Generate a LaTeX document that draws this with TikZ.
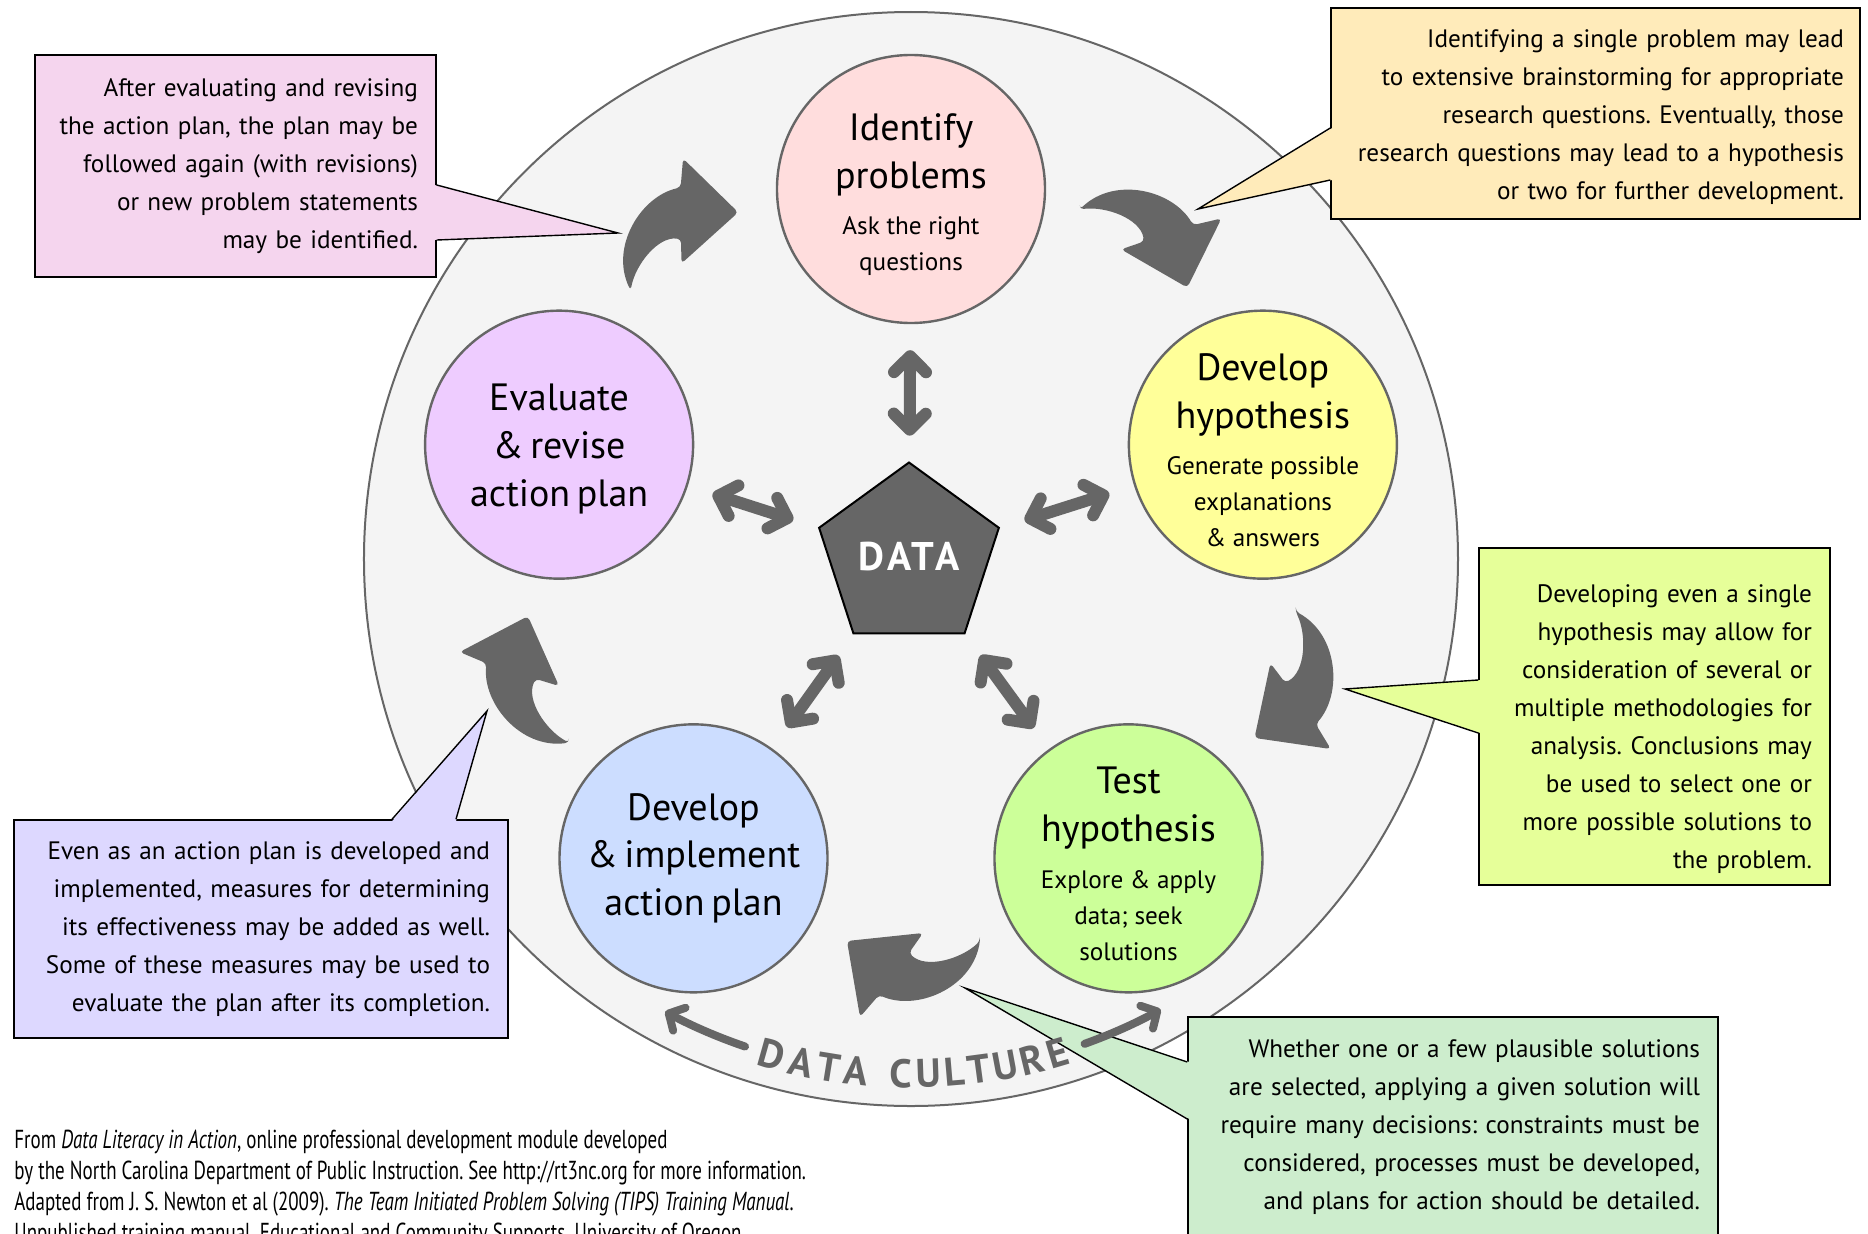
\documentclass[tikz,border=0pt]{standalone}
\usepackage{fontspec}
\setmainfont{PT Sans}
\newfontfamily\footfont[FakeStretch=0.73]{PT Sans}
\newfontfamily\datafont[LetterSpace=9]{PT Sans}
\usetikzlibrary{arrows.meta, shapes.geometric}
\frenchspacing
\hyphenpenalty=10000
\exhyphenpenalty=10000

\definecolor{ringfill}{HTML}{F4F4F4}
\definecolor{ringline}{HTML}{666666}
\definecolor{arrowgray}{HTML}{666666}
\definecolor{pinkstage}{HTML}{FFDDDD}
\definecolor{yellowstage}{HTML}{FFFF99}
\definecolor{greenstage}{HTML}{CCFF99}
\definecolor{bluestage}{HTML}{CCDDFF}
\definecolor{purplestage}{HTML}{EECCFF}
\definecolor{evalfill}{HTML}{F5D5EE}
\definecolor{identfill}{HTML}{FFEBBA}
\definecolor{hypfill}{HTML}{E6FF99}
\definecolor{implfill}{HTML}{DDD8FF}
\definecolor{testfill}{HTML}{CDEDCD}

\newcommand{\notefont}{\fontsize{12.6}{19}\selectfont}
\newcommand{\culturefont}{\bfseries\fontsize{20}{22}\selectfont}
\newcommand{\stagetitle}[2][0pt]{{\fontsize{19}{24}\selectfont\rule{0pt}{#1}#2\par}}
\newcommand{\stagenote}[1]{{\fontsize{12.6}{18}\selectfont\vspace{5.2pt}#1\par}}

\begin{document}
\begin{tikzpicture}[x=0.5pt, y=0.5pt,
		stage/.style={circle, draw=ringline, line width=1.2pt, minimum size=134pt, inner sep=-15pt, text width=120pt, align=center},
		note/.style={rectangle, draw=black, line width=0.7pt, inner sep=0pt, align=right, font=\notefont},
		tipline/.style={draw=black, line width=0.7pt},
		linkarrow/.style={draw=arrowgray, line width=6pt, {Straight Barb[length=8pt,width=16pt,round]}-{Straight Barb[length=8pt,width=16pt,round]}, shorten <=13pt, shorten >=13pt},
		culturearrow/.style={draw=arrowgray, line width=4pt, line cap=round, -{Straight Barb[length=6pt,width=13pt,round]}},
		culture/.style={text=arrowgray, font=\culturefont, inner sep=0pt}]
		\useasboundingbox (-911,-674) rectangle (957,559);
		\fill[white] (-911,-674) rectangle (957,559);
		
		% Data culture ring
		\draw[fill=ringfill, draw=ringline, line width=1pt] (0,0) circle[radius=547];
		
		% Cycle arrows
		\foreach \ang in {0,72,144,216,288} {
			\fill[arrowgray, rounded corners=2pt, rotate=\ang] (69,-382) .. controls (50,-400) and (15,-410) .. (-2,-394) -- (12,-374) -- (-64,-382) -- (-51,-458) -- (-32,-436) .. controls (5,-452) and (60,-430) .. (69,-382) -- cycle;
		}
		
		% Stages
		\node[stage, fill=pinkstage] (identify) at (90:370) {\stagetitle[19pt]{Identify\\problems}\stagenote{Ask the right\\questions}};
		\node[stage, fill=yellowstage] (hypothesis) at (18:370) {\stagetitle[19pt]{Develop\\hypothesis}\stagenote{Generate possible\\explanations\\\& answers}};
		\node[stage, fill=greenstage] (testing) at (-54:370) {\stagetitle[19pt]{Test\\hypothesis}\stagenote{Explore \& apply\\data; seek\\solutions}};
		\node[stage, fill=bluestage] (implement) at (-126:370) {\stagetitle{Develop\\\& implement\\action plan}};
		\node[stage, fill=purplestage] (evaluate) at (162:370) {\stagetitle[17.9pt]{Evaluate\\\& revise\\action plan}};
		
		% Data
		\node[regular polygon, regular polygon sides=5, minimum size=94.5pt, inner sep=0pt, fill=arrowgray, draw=black, line width=1pt, text=white, font=\datafont\bfseries\fontsize{20}{24}\selectfont] (data) at (-2,2) {DATA};
		\foreach \s in {identify, hypothesis, testing, implement, evaluate}
			\draw[linkarrow] (data) -- (\s);
		
		% Notes
		\node[note, fill=evalfill, minimum width=200.5pt, minimum height=111pt, text width=182.5pt] (evalnote) at (-675.5,393) {After evaluating and revising\\the action plan, the plan may be\\followed again (with revisions)\\or new problem statements\\may be identified.};
		\coordinate (evalA) at (evalnote.east |- 0,374);
		\coordinate (evalB) at (evalnote.east |- 0,319);
		\coordinate (evaltip) at (-293,326);
		\fill[evalfill] ([xshift=-1pt]evalA) -- (evaltip) -- ([xshift=-1pt]evalB) -- cycle;
		\draw[tipline] (evalA) -- (evaltip) -- (evalB);
		
		\node[note, fill=identfill, minimum width=264.5pt, minimum height=105.5pt, text width=248.5pt] (identnote) at (684.5,445.5) {\rule{0pt}{12.5pt}Identifying a single problem may lead\\to extensive brainstorming for appropriate\\research questions. Eventually, those\\research questions may lead to a hypothesis\\or two for further development.};
		\coordinate (identA) at (identnote.west |- 0,431);
		\coordinate (identB) at (identnote.west |- 0,379);
		\coordinate (identtip) at (287,350);
		\fill[identfill] ([xshift=1pt]identA) -- (identtip) -- ([xshift=1pt]identB) -- cycle;
		\draw[tipline] (identA) -- (identtip) -- (identB);
		
		\node[note, fill=hypfill, minimum width=175.5pt, minimum height=168.5pt, text width=157.5pt] (hypnote) at (743.5,-157.5) {\rule{0pt}{22pt}Developing even a single\\hypothesis may allow for\\consideration of several or\\multiple methodologies for\\analysis. Conclusions may\\be used to select one or\\more possible solutions to\\the problem.};
		\coordinate (hypA) at (hypnote.west |- 0,-121);
		\coordinate (hypB) at (hypnote.west |- 0,-174);
		\coordinate (hyptip) at (434,-130);
		\fill[hypfill] ([xshift=1pt]hypA) -- (hyptip) -- ([xshift=1pt]hypB) -- cycle;
		\draw[tipline] (hypA) -- (hyptip) -- (hypB);
		
		\node[note, fill=implfill, minimum width=247pt, minimum height=109pt, text width=229pt] (implnote) at (-650,-370) {Even as an action plan is developed and\\implemented, measures for determining\\its effectiveness may be added as well.\\Some of these measures may be used to\\evaluate the plan after its completion.};
		\coordinate (implA) at (implnote.north -| -519,0);
		\coordinate (implB) at (implnote.north -| -455,0);
		\coordinate (impltip) at (-424,-152);
		\fill[implfill] ([yshift=-1pt]implA) -- (impltip) -- ([yshift=-1pt]implB) -- cycle;
		\draw[tipline] (implA) -- (impltip) -- (implB);
		
		\node[note, fill=testfill, minimum width=265pt, minimum height=125pt, text width=247pt] (testnote) at (542,-583) {Whether one or a few plausible solutions\\are selected, applying a given solution will\\require many decisions: constraints must be\\considered, processes must be developed,\\and plans for action should be detailed.\rule[-17.5pt]{0pt}{17.5pt}};
		\coordinate (testA) at (testnote.west |- 0,-503);
		\coordinate (testB) at (testnote.west |- 0,-560);
		\coordinate (testtip) at (54,-429);
		\fill[testfill] ([xshift=1pt]testA) -- (testtip) -- ([xshift=1pt]testB) -- cycle;
		\draw[tipline] (testA) -- (testtip) -- (testB);
		
		% Data culture label
		\foreach \ch/\off [count=\i] in {D/-15.67, A/-12.30, T/-9.19, A/-6.08, C/-1.08, U/1.98, L/4.82, T/7.60, U/10.60, R/13.55, E/16.50}
			\node[culture, rotate=\off] (letter\i) at ({\off-90}:515) {\ch};
		\draw[culturearrow] (-108.8:515) arc[start angle=-108.8, end angle=-118.5, radius=515];
		\draw[culturearrow] (-70.3:515) arc[start angle=-70.3, end angle=-61, radius=515];
		
		% Source
		\node[anchor=north west, inner sep=0pt, align=left, font=\footfont\fontsize{13}{15.5}\selectfont] (source) at (-897,-571) {From \textit{Data Literacy in Action}, online professional development module developed\\by the North Carolina Department of Public Instruction. See http://rt3nc.org for more information.\\Adapted from J. S. Newton et al (2009). \textit{The Team Initiated Problem Solving (TIPS) Training Manual}.\\Unpublished training manual. Educational and Community Supports, University of Oregon.};
	\end{tikzpicture}
\end{document}
